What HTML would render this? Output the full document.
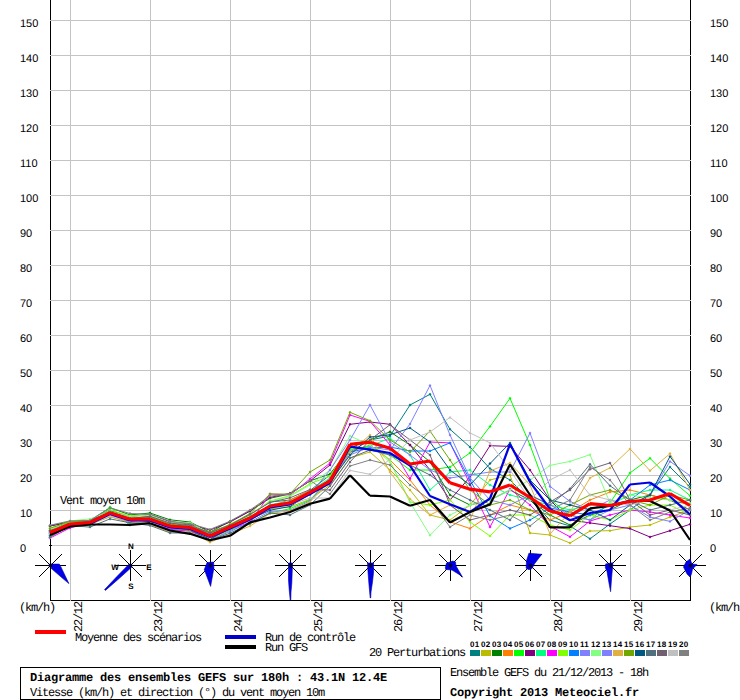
<!DOCTYPE html><html><head><meta charset="utf-8"><style>html,body{margin:0;padding:0;background:#fff;overflow:hidden}svg{display:block}text{text-rendering:geometricPrecision}.m{font-family:"Liberation Mono",monospace;font-size:12px;letter-spacing:-1.2px}.b{font-family:"Liberation Mono",monospace;font-size:12px;font-weight:bold;letter-spacing:-0.2px}.s{font-family:"Liberation Sans",sans-serif;font-size:11px}.w{font-family:"Liberation Sans",sans-serif;font-size:8px;font-weight:bold}.t{font-family:"Liberation Sans",sans-serif;font-size:8px;font-weight:bold;letter-spacing:0.3px}</style></head><body><svg width="740" height="700" viewBox="0 0 740 700"><path d="M50.5 0V600.5M690.5 0V600.5M50 600.5H691" stroke="#000" stroke-width="1" fill="none" shape-rendering="crispEdges"/><path d="M50 20.5H691M50 55.5H691M50 90.5H691M50 125.5H691M50 160.5H691M50 195.5H691M50 230.5H691M50 265.5H691M50 300.5H691M50 335.5H691M50 370.5H691M50 405.5H691M50 440.5H691M50 475.5H691M50 510.5H691M50 545.5H691M70.5 0V601M150.5 0V601M230.5 0V601M310.5 0V601M390.5 0V601M470.5 0V601M550.5 0V601M630.5 0V601" stroke="#c4c4c4" stroke-width="1" fill="none" shape-rendering="crispEdges"/><rect x="49" y="545" width="3" height="1" fill="#000"/><text class="s" x="20" y="27">150</text><text class="s" x="710" y="27">150</text><text class="s" x="20" y="62">140</text><text class="s" x="710" y="62">140</text><text class="s" x="20" y="97">130</text><text class="s" x="710" y="97">130</text><text class="s" x="20" y="132">120</text><text class="s" x="710" y="132">120</text><text class="s" x="20" y="167">110</text><text class="s" x="710" y="167">110</text><text class="s" x="20" y="202">100</text><text class="s" x="710" y="202">100</text><text class="s" x="20" y="237">90</text><text class="s" x="710" y="237">90</text><text class="s" x="20" y="272">80</text><text class="s" x="710" y="272">80</text><text class="s" x="20" y="307">70</text><text class="s" x="710" y="307">70</text><text class="s" x="20" y="342">60</text><text class="s" x="710" y="342">60</text><text class="s" x="20" y="377">50</text><text class="s" x="710" y="377">50</text><text class="s" x="20" y="412">40</text><text class="s" x="710" y="412">40</text><text class="s" x="20" y="447">30</text><text class="s" x="710" y="447">30</text><text class="s" x="20" y="482">20</text><text class="s" x="710" y="482">20</text><text class="s" x="20" y="517">10</text><text class="s" x="710" y="517">10</text><text class="s" x="20" y="552">0</text><text class="s" x="710" y="552">0</text><text class="m" x="60" y="504">Vent moyen 10m</text><text class="m" x="19" y="611">(km/h)</text><text class="m" x="709" y="611">(km/h)</text><text class="m" transform="translate(81.5,632) rotate(-90)" x="0" y="0">22/12</text><text class="m" transform="translate(161.5,632) rotate(-90)" x="0" y="0">23/12</text><text class="m" transform="translate(241.5,632) rotate(-90)" x="0" y="0">24/12</text><text class="m" transform="translate(321.5,632) rotate(-90)" x="0" y="0">25/12</text><text class="m" transform="translate(401.5,632) rotate(-90)" x="0" y="0">26/12</text><text class="m" transform="translate(481.5,632) rotate(-90)" x="0" y="0">27/12</text><text class="m" transform="translate(561.5,632) rotate(-90)" x="0" y="0">28/12</text><text class="m" transform="translate(641.5,632) rotate(-90)" x="0" y="0">29/12</text><path d="M35.0 565.5H66.0M50.5 550.0V581.0M39.0 554.0L62.0 577.0M39.0 577.0L62.0 554.0M115.0 565.5H146.0M130.5 550.0V581.0M119.0 554.0L142.0 577.0M119.0 577.0L142.0 554.0M195.0 565.5H226.0M210.5 550.0V581.0M199.0 554.0L222.0 577.0M199.0 577.0L222.0 554.0M275.0 565.5H306.0M290.5 550.0V581.0M279.0 554.0L302.0 577.0M279.0 577.0L302.0 554.0M355.0 565.5H386.0M370.5 550.0V581.0M359.0 554.0L382.0 577.0M359.0 577.0L382.0 554.0M435.0 565.5H466.0M450.5 550.0V581.0M439.0 554.0L462.0 577.0M439.0 577.0L462.0 554.0M515.0 565.5H546.0M530.5 550.0V581.0M519.0 554.0L542.0 577.0M519.0 577.0L542.0 554.0M595.0 565.5H626.0M610.5 550.0V581.0M599.0 554.0L622.0 577.0M599.0 577.0L622.0 554.0M675.0 565.5H706.0M690.5 550.0V581.0M679.0 554.0L702.0 577.0M679.0 577.0L702.0 554.0" stroke="#000" stroke-width="1" fill="none"/><polygon points="50.7,564.1 59.3,564.1 60.7,566.4 68.9,583.6 62.9,578.6 51.4,568.6" fill="#0000e8" stroke="#0000a0" stroke-width="0.6"/><polygon points="129.1,564.1 131.9,566.9 118.8,578.8 105.4,590.4 104.6,589.6 116.7,576.7" fill="#0000e8" stroke="#0000a0" stroke-width="0.6"/><polygon points="207.1,562.5 213.6,562.1 213.9,567.9 211.4,582.1 210.6,586.4 204.3,569.6" fill="#0000e8" stroke="#0000a0" stroke-width="0.6"/><polygon points="288.5,563 292.5,563 291.8,583 291,592 290.8,600 290.2,600 289.2,590 288.5,580" fill="#0000e8" stroke="#0000a0" stroke-width="0.6"/><polygon points="367.5,563 373.5,563 373.6,572 372.5,582 371,592 370.7,598 370.2,598 369,585 368,572" fill="#0000e8" stroke="#0000a0" stroke-width="0.6"/><polygon points="446.5,563 452.8,561.1 455.5,561.9 455.9,565.8 462.6,577.2 459.9,574.9 452,570.1 445.7,569.4 445.3,567.8" fill="#0000e8" stroke="#0000a0" stroke-width="0.6"/><polygon points="528.9,553.2 541.8,554.3 534.4,563.9 532,568.6 528.9,569.7 526.1,568.2 526.5,560.7" fill="#0000e8" stroke="#0000a0" stroke-width="0.6"/><polygon points="605.7,563.9 612.8,562.7 612.8,564.6 611.6,578 610.6,591.7 608.9,582.7 606.9,570.9 605.3,567.8" fill="#0000e8" stroke="#0000a0" stroke-width="0.6"/><polygon points="690,559 692,564 697,564.5 692.5,569 691.5,574 690,577 687,574 683.5,567 686,562" fill="#0000e8" stroke="#0000a0" stroke-width="0.6"/><circle cx="50.5" cy="565.5" r="2" fill="#000030"/><circle cx="130.5" cy="565.5" r="2" fill="#000030"/><circle cx="210.5" cy="565.5" r="2" fill="#000030"/><circle cx="290.5" cy="565.5" r="2" fill="#000030"/><circle cx="370.5" cy="565.5" r="2" fill="#000030"/><circle cx="450.5" cy="565.5" r="2" fill="#000030"/><circle cx="530.5" cy="565.5" r="2" fill="#000030"/><circle cx="610.5" cy="565.5" r="2" fill="#000030"/><circle cx="690.5" cy="565.5" r="2" fill="#000030"/><text class="w" x="131" y="549" text-anchor="middle">N</text><text class="w" x="131" y="589" text-anchor="middle">S</text><text class="w" x="115" y="570" text-anchor="middle">W</text><text class="w" x="149" y="570" text-anchor="middle">E</text><polyline points="50,530.2 70,521.8 90,522.3 110,509.7 130,525.0 150,517.3 170,522.9 190,526.3 210,532.8 230,525.2 250,514.4 270,502.0 290,500.1 310,490.5 330,475.0 350,452.0 370,440.0 390,436.0 410,405.0 430,394.3 450,429.3 470,447.0 490,468.6 510,480.0 530,500.0 550,520.0 570,526.0 590,538.8 610,524.0 630,510.0 650,495.0 670,467.0 690,487.0" fill="none" stroke="#008080" stroke-width="1"/><path d="M50 528.7l1.5 1.5l-1.5 1.5l-1.5 -1.5zM70 520.3l1.5 1.5l-1.5 1.5l-1.5 -1.5zM90 520.8l1.5 1.5l-1.5 1.5l-1.5 -1.5zM110 508.2l1.5 1.5l-1.5 1.5l-1.5 -1.5zM130 523.5l1.5 1.5l-1.5 1.5l-1.5 -1.5zM150 515.8l1.5 1.5l-1.5 1.5l-1.5 -1.5zM170 521.4l1.5 1.5l-1.5 1.5l-1.5 -1.5zM190 524.8l1.5 1.5l-1.5 1.5l-1.5 -1.5zM210 531.3l1.5 1.5l-1.5 1.5l-1.5 -1.5zM230 523.7l1.5 1.5l-1.5 1.5l-1.5 -1.5zM250 512.9l1.5 1.5l-1.5 1.5l-1.5 -1.5zM270 500.5l1.5 1.5l-1.5 1.5l-1.5 -1.5zM290 498.6l1.5 1.5l-1.5 1.5l-1.5 -1.5zM310 489.0l1.5 1.5l-1.5 1.5l-1.5 -1.5zM330 473.5l1.5 1.5l-1.5 1.5l-1.5 -1.5zM350 450.5l1.5 1.5l-1.5 1.5l-1.5 -1.5zM370 438.5l1.5 1.5l-1.5 1.5l-1.5 -1.5zM390 434.5l1.5 1.5l-1.5 1.5l-1.5 -1.5zM410 403.5l1.5 1.5l-1.5 1.5l-1.5 -1.5zM430 392.8l1.5 1.5l-1.5 1.5l-1.5 -1.5zM450 427.8l1.5 1.5l-1.5 1.5l-1.5 -1.5zM470 445.5l1.5 1.5l-1.5 1.5l-1.5 -1.5zM490 467.1l1.5 1.5l-1.5 1.5l-1.5 -1.5zM510 478.5l1.5 1.5l-1.5 1.5l-1.5 -1.5zM530 498.5l1.5 1.5l-1.5 1.5l-1.5 -1.5zM550 518.5l1.5 1.5l-1.5 1.5l-1.5 -1.5zM570 524.5l1.5 1.5l-1.5 1.5l-1.5 -1.5zM590 537.3l1.5 1.5l-1.5 1.5l-1.5 -1.5zM610 522.5l1.5 1.5l-1.5 1.5l-1.5 -1.5zM630 508.5l1.5 1.5l-1.5 1.5l-1.5 -1.5zM650 493.5l1.5 1.5l-1.5 1.5l-1.5 -1.5zM670 465.5l1.5 1.5l-1.5 1.5l-1.5 -1.5zM690 485.5l1.5 1.5l-1.5 1.5l-1.5 -1.5z" fill="#008080"/><polyline points="50,533.8 70,524.3 90,524.4 110,516.9 130,521.9 150,521.2 170,530.3 190,528.2 210,539.8 230,529.0 250,519.9 270,508.7 290,507.0 310,499.3 330,485.0 350,458.0 370,452.0 390,470.0 410,490.0 430,515.0 450,520.0 470,505.0 490,480.0 510,475.0 530,533.0 550,535.0 570,543.0 590,531.0 610,530.7 630,527.0 650,525.0 670,517.0 690,510.0" fill="none" stroke="#bbbb00" stroke-width="1"/><path d="M50 532.3l1.5 1.5l-1.5 1.5l-1.5 -1.5zM70 522.8l1.5 1.5l-1.5 1.5l-1.5 -1.5zM90 522.9l1.5 1.5l-1.5 1.5l-1.5 -1.5zM110 515.4l1.5 1.5l-1.5 1.5l-1.5 -1.5zM130 520.4l1.5 1.5l-1.5 1.5l-1.5 -1.5zM150 519.7l1.5 1.5l-1.5 1.5l-1.5 -1.5zM170 528.8l1.5 1.5l-1.5 1.5l-1.5 -1.5zM190 526.7l1.5 1.5l-1.5 1.5l-1.5 -1.5zM210 538.3l1.5 1.5l-1.5 1.5l-1.5 -1.5zM230 527.5l1.5 1.5l-1.5 1.5l-1.5 -1.5zM250 518.4l1.5 1.5l-1.5 1.5l-1.5 -1.5zM270 507.2l1.5 1.5l-1.5 1.5l-1.5 -1.5zM290 505.5l1.5 1.5l-1.5 1.5l-1.5 -1.5zM310 497.8l1.5 1.5l-1.5 1.5l-1.5 -1.5zM330 483.5l1.5 1.5l-1.5 1.5l-1.5 -1.5zM350 456.5l1.5 1.5l-1.5 1.5l-1.5 -1.5zM370 450.5l1.5 1.5l-1.5 1.5l-1.5 -1.5zM390 468.5l1.5 1.5l-1.5 1.5l-1.5 -1.5zM410 488.5l1.5 1.5l-1.5 1.5l-1.5 -1.5zM430 513.5l1.5 1.5l-1.5 1.5l-1.5 -1.5zM450 518.5l1.5 1.5l-1.5 1.5l-1.5 -1.5zM470 503.5l1.5 1.5l-1.5 1.5l-1.5 -1.5zM490 478.5l1.5 1.5l-1.5 1.5l-1.5 -1.5zM510 473.5l1.5 1.5l-1.5 1.5l-1.5 -1.5zM530 531.5l1.5 1.5l-1.5 1.5l-1.5 -1.5zM550 533.5l1.5 1.5l-1.5 1.5l-1.5 -1.5zM570 541.5l1.5 1.5l-1.5 1.5l-1.5 -1.5zM590 529.5l1.5 1.5l-1.5 1.5l-1.5 -1.5zM610 529.2l1.5 1.5l-1.5 1.5l-1.5 -1.5zM630 525.5l1.5 1.5l-1.5 1.5l-1.5 -1.5zM650 523.5l1.5 1.5l-1.5 1.5l-1.5 -1.5zM670 515.5l1.5 1.5l-1.5 1.5l-1.5 -1.5zM690 508.5l1.5 1.5l-1.5 1.5l-1.5 -1.5z" fill="#bbbb00"/><polyline points="50,525.9 70,521.6 90,520.4 110,507.7 130,514.9 150,513.0 170,519.8 190,522.0 210,532.2 230,521.3 250,511.0 270,498.3 290,493.9 310,480.9 330,474.0 350,448.0 370,440.0 390,431.8 410,445.0 430,462.0 450,495.0 470,505.0 490,500.0 510,490.0 530,500.0 550,515.0 570,525.0 590,515.0 610,510.0 630,500.0 650,495.0 670,500.0 690,510.0" fill="none" stroke="#008000" stroke-width="1"/><path d="M50 524.4l1.5 1.5l-1.5 1.5l-1.5 -1.5zM70 520.1l1.5 1.5l-1.5 1.5l-1.5 -1.5zM90 518.9l1.5 1.5l-1.5 1.5l-1.5 -1.5zM110 506.2l1.5 1.5l-1.5 1.5l-1.5 -1.5zM130 513.4l1.5 1.5l-1.5 1.5l-1.5 -1.5zM150 511.5l1.5 1.5l-1.5 1.5l-1.5 -1.5zM170 518.3l1.5 1.5l-1.5 1.5l-1.5 -1.5zM190 520.5l1.5 1.5l-1.5 1.5l-1.5 -1.5zM210 530.7l1.5 1.5l-1.5 1.5l-1.5 -1.5zM230 519.8l1.5 1.5l-1.5 1.5l-1.5 -1.5zM250 509.5l1.5 1.5l-1.5 1.5l-1.5 -1.5zM270 496.8l1.5 1.5l-1.5 1.5l-1.5 -1.5zM290 492.4l1.5 1.5l-1.5 1.5l-1.5 -1.5zM310 479.4l1.5 1.5l-1.5 1.5l-1.5 -1.5zM330 472.5l1.5 1.5l-1.5 1.5l-1.5 -1.5zM350 446.5l1.5 1.5l-1.5 1.5l-1.5 -1.5zM370 438.5l1.5 1.5l-1.5 1.5l-1.5 -1.5zM390 430.3l1.5 1.5l-1.5 1.5l-1.5 -1.5zM410 443.5l1.5 1.5l-1.5 1.5l-1.5 -1.5zM430 460.5l1.5 1.5l-1.5 1.5l-1.5 -1.5zM450 493.5l1.5 1.5l-1.5 1.5l-1.5 -1.5zM470 503.5l1.5 1.5l-1.5 1.5l-1.5 -1.5zM490 498.5l1.5 1.5l-1.5 1.5l-1.5 -1.5zM510 488.5l1.5 1.5l-1.5 1.5l-1.5 -1.5zM530 498.5l1.5 1.5l-1.5 1.5l-1.5 -1.5zM550 513.5l1.5 1.5l-1.5 1.5l-1.5 -1.5zM570 523.5l1.5 1.5l-1.5 1.5l-1.5 -1.5zM590 513.5l1.5 1.5l-1.5 1.5l-1.5 -1.5zM610 508.5l1.5 1.5l-1.5 1.5l-1.5 -1.5zM630 498.5l1.5 1.5l-1.5 1.5l-1.5 -1.5zM650 493.5l1.5 1.5l-1.5 1.5l-1.5 -1.5zM670 498.5l1.5 1.5l-1.5 1.5l-1.5 -1.5zM690 508.5l1.5 1.5l-1.5 1.5l-1.5 -1.5z" fill="#008000"/><polyline points="50,532.7 70,524.3 90,521.0 110,512.2 130,518.5 150,519.9 170,526.1 190,526.0 210,537.1 230,524.5 250,516.6 270,505.6 290,500.0 310,490.5 330,484.0 350,452.0 370,445.0 390,460.0 410,480.0 430,505.0 450,521.8 470,528.5 490,515.0 510,505.0 530,510.0 550,520.0 570,512.0 590,500.0 610,492.0 630,490.0 650,495.0 670,500.0 690,505.0" fill="none" stroke="#ff8000" stroke-width="1"/><path d="M50 531.2l1.5 1.5l-1.5 1.5l-1.5 -1.5zM70 522.8l1.5 1.5l-1.5 1.5l-1.5 -1.5zM90 519.5l1.5 1.5l-1.5 1.5l-1.5 -1.5zM110 510.7l1.5 1.5l-1.5 1.5l-1.5 -1.5zM130 517.0l1.5 1.5l-1.5 1.5l-1.5 -1.5zM150 518.4l1.5 1.5l-1.5 1.5l-1.5 -1.5zM170 524.6l1.5 1.5l-1.5 1.5l-1.5 -1.5zM190 524.5l1.5 1.5l-1.5 1.5l-1.5 -1.5zM210 535.6l1.5 1.5l-1.5 1.5l-1.5 -1.5zM230 523.0l1.5 1.5l-1.5 1.5l-1.5 -1.5zM250 515.1l1.5 1.5l-1.5 1.5l-1.5 -1.5zM270 504.1l1.5 1.5l-1.5 1.5l-1.5 -1.5zM290 498.5l1.5 1.5l-1.5 1.5l-1.5 -1.5zM310 489.0l1.5 1.5l-1.5 1.5l-1.5 -1.5zM330 482.5l1.5 1.5l-1.5 1.5l-1.5 -1.5zM350 450.5l1.5 1.5l-1.5 1.5l-1.5 -1.5zM370 443.5l1.5 1.5l-1.5 1.5l-1.5 -1.5zM390 458.5l1.5 1.5l-1.5 1.5l-1.5 -1.5zM410 478.5l1.5 1.5l-1.5 1.5l-1.5 -1.5zM430 503.5l1.5 1.5l-1.5 1.5l-1.5 -1.5zM450 520.3l1.5 1.5l-1.5 1.5l-1.5 -1.5zM470 527.0l1.5 1.5l-1.5 1.5l-1.5 -1.5zM490 513.5l1.5 1.5l-1.5 1.5l-1.5 -1.5zM510 503.5l1.5 1.5l-1.5 1.5l-1.5 -1.5zM530 508.5l1.5 1.5l-1.5 1.5l-1.5 -1.5zM550 518.5l1.5 1.5l-1.5 1.5l-1.5 -1.5zM570 510.5l1.5 1.5l-1.5 1.5l-1.5 -1.5zM590 498.5l1.5 1.5l-1.5 1.5l-1.5 -1.5zM610 490.5l1.5 1.5l-1.5 1.5l-1.5 -1.5zM630 488.5l1.5 1.5l-1.5 1.5l-1.5 -1.5zM650 493.5l1.5 1.5l-1.5 1.5l-1.5 -1.5zM670 498.5l1.5 1.5l-1.5 1.5l-1.5 -1.5zM690 503.5l1.5 1.5l-1.5 1.5l-1.5 -1.5z" fill="#ff8000"/><polyline points="50,534.1 70,526.4 90,525.3 110,507.0 130,523.6 150,521.3 170,529.7 190,530.9 210,541.0 230,530.3 250,523.4 270,513.0 290,508.7 310,500.0 330,478.0 350,448.0 370,447.0 390,455.0 410,470.0 430,470.0 450,467.0 470,452.9 490,426.4 510,398.3 530,445.0 550,499.3 570,515.0 590,520.0 610,502.9 630,472.9 650,458.3 670,478.6 690,495.7" fill="none" stroke="#00ff00" stroke-width="1"/><path d="M50 532.6l1.5 1.5l-1.5 1.5l-1.5 -1.5zM70 524.9l1.5 1.5l-1.5 1.5l-1.5 -1.5zM90 523.8l1.5 1.5l-1.5 1.5l-1.5 -1.5zM110 505.5l1.5 1.5l-1.5 1.5l-1.5 -1.5zM130 522.1l1.5 1.5l-1.5 1.5l-1.5 -1.5zM150 519.8l1.5 1.5l-1.5 1.5l-1.5 -1.5zM170 528.2l1.5 1.5l-1.5 1.5l-1.5 -1.5zM190 529.4l1.5 1.5l-1.5 1.5l-1.5 -1.5zM210 539.5l1.5 1.5l-1.5 1.5l-1.5 -1.5zM230 528.8l1.5 1.5l-1.5 1.5l-1.5 -1.5zM250 521.9l1.5 1.5l-1.5 1.5l-1.5 -1.5zM270 511.5l1.5 1.5l-1.5 1.5l-1.5 -1.5zM290 507.2l1.5 1.5l-1.5 1.5l-1.5 -1.5zM310 498.5l1.5 1.5l-1.5 1.5l-1.5 -1.5zM330 476.5l1.5 1.5l-1.5 1.5l-1.5 -1.5zM350 446.5l1.5 1.5l-1.5 1.5l-1.5 -1.5zM370 445.5l1.5 1.5l-1.5 1.5l-1.5 -1.5zM390 453.5l1.5 1.5l-1.5 1.5l-1.5 -1.5zM410 468.5l1.5 1.5l-1.5 1.5l-1.5 -1.5zM430 468.5l1.5 1.5l-1.5 1.5l-1.5 -1.5zM450 465.5l1.5 1.5l-1.5 1.5l-1.5 -1.5zM470 451.4l1.5 1.5l-1.5 1.5l-1.5 -1.5zM490 424.9l1.5 1.5l-1.5 1.5l-1.5 -1.5zM510 396.8l1.5 1.5l-1.5 1.5l-1.5 -1.5zM530 443.5l1.5 1.5l-1.5 1.5l-1.5 -1.5zM550 497.8l1.5 1.5l-1.5 1.5l-1.5 -1.5zM570 513.5l1.5 1.5l-1.5 1.5l-1.5 -1.5zM590 518.5l1.5 1.5l-1.5 1.5l-1.5 -1.5zM610 501.4l1.5 1.5l-1.5 1.5l-1.5 -1.5zM630 471.4l1.5 1.5l-1.5 1.5l-1.5 -1.5zM650 456.8l1.5 1.5l-1.5 1.5l-1.5 -1.5zM670 477.1l1.5 1.5l-1.5 1.5l-1.5 -1.5zM690 494.2l1.5 1.5l-1.5 1.5l-1.5 -1.5z" fill="#00ff00"/><polyline points="50,526.0 70,522.4 90,520.7 110,510.7 130,516.5 150,514.4 170,521.6 190,524.3 210,530.1 230,522.1 250,511.1 270,497.4 290,493.3 310,481.0 330,465.0 350,424.3 370,422.0 390,424.3 410,445.0 430,470.0 450,500.0 470,477.0 490,445.7 510,446.4 530,470.0 550,500.0 570,520.0 590,522.9 610,525.7 630,528.6 650,537.0 670,530.7 690,524.3" fill="none" stroke="#800080" stroke-width="1"/><path d="M50 524.5l1.5 1.5l-1.5 1.5l-1.5 -1.5zM70 520.9l1.5 1.5l-1.5 1.5l-1.5 -1.5zM90 519.2l1.5 1.5l-1.5 1.5l-1.5 -1.5zM110 509.2l1.5 1.5l-1.5 1.5l-1.5 -1.5zM130 515.0l1.5 1.5l-1.5 1.5l-1.5 -1.5zM150 512.9l1.5 1.5l-1.5 1.5l-1.5 -1.5zM170 520.1l1.5 1.5l-1.5 1.5l-1.5 -1.5zM190 522.8l1.5 1.5l-1.5 1.5l-1.5 -1.5zM210 528.6l1.5 1.5l-1.5 1.5l-1.5 -1.5zM230 520.6l1.5 1.5l-1.5 1.5l-1.5 -1.5zM250 509.6l1.5 1.5l-1.5 1.5l-1.5 -1.5zM270 495.9l1.5 1.5l-1.5 1.5l-1.5 -1.5zM290 491.8l1.5 1.5l-1.5 1.5l-1.5 -1.5zM310 479.5l1.5 1.5l-1.5 1.5l-1.5 -1.5zM330 463.5l1.5 1.5l-1.5 1.5l-1.5 -1.5zM350 422.8l1.5 1.5l-1.5 1.5l-1.5 -1.5zM370 420.5l1.5 1.5l-1.5 1.5l-1.5 -1.5zM390 422.8l1.5 1.5l-1.5 1.5l-1.5 -1.5zM410 443.5l1.5 1.5l-1.5 1.5l-1.5 -1.5zM430 468.5l1.5 1.5l-1.5 1.5l-1.5 -1.5zM450 498.5l1.5 1.5l-1.5 1.5l-1.5 -1.5zM470 475.5l1.5 1.5l-1.5 1.5l-1.5 -1.5zM490 444.2l1.5 1.5l-1.5 1.5l-1.5 -1.5zM510 444.9l1.5 1.5l-1.5 1.5l-1.5 -1.5zM530 468.5l1.5 1.5l-1.5 1.5l-1.5 -1.5zM550 498.5l1.5 1.5l-1.5 1.5l-1.5 -1.5zM570 518.5l1.5 1.5l-1.5 1.5l-1.5 -1.5zM590 521.4l1.5 1.5l-1.5 1.5l-1.5 -1.5zM610 524.2l1.5 1.5l-1.5 1.5l-1.5 -1.5zM630 527.1l1.5 1.5l-1.5 1.5l-1.5 -1.5zM650 535.5l1.5 1.5l-1.5 1.5l-1.5 -1.5zM670 529.2l1.5 1.5l-1.5 1.5l-1.5 -1.5zM690 522.8l1.5 1.5l-1.5 1.5l-1.5 -1.5z" fill="#800080"/><polyline points="50,533.3 70,522.4 90,521.3 110,512.0 130,520.4 150,517.3 170,525.5 190,527.5 210,537.3 230,528.0 250,519.1 270,504.6 290,502.1 310,491.2 330,478.0 350,450.0 370,446.0 390,438.0 410,455.0 430,490.0 450,472.0 470,470.0 490,485.0 510,495.0 530,500.0 550,505.0 570,510.0 590,505.0 610,505.0 630,495.0 650,490.0 670,490.0 690,500.0" fill="none" stroke="#00ff80" stroke-width="1"/><path d="M50 531.8l1.5 1.5l-1.5 1.5l-1.5 -1.5zM70 520.9l1.5 1.5l-1.5 1.5l-1.5 -1.5zM90 519.8l1.5 1.5l-1.5 1.5l-1.5 -1.5zM110 510.5l1.5 1.5l-1.5 1.5l-1.5 -1.5zM130 518.9l1.5 1.5l-1.5 1.5l-1.5 -1.5zM150 515.8l1.5 1.5l-1.5 1.5l-1.5 -1.5zM170 524.0l1.5 1.5l-1.5 1.5l-1.5 -1.5zM190 526.0l1.5 1.5l-1.5 1.5l-1.5 -1.5zM210 535.8l1.5 1.5l-1.5 1.5l-1.5 -1.5zM230 526.5l1.5 1.5l-1.5 1.5l-1.5 -1.5zM250 517.6l1.5 1.5l-1.5 1.5l-1.5 -1.5zM270 503.1l1.5 1.5l-1.5 1.5l-1.5 -1.5zM290 500.6l1.5 1.5l-1.5 1.5l-1.5 -1.5zM310 489.7l1.5 1.5l-1.5 1.5l-1.5 -1.5zM330 476.5l1.5 1.5l-1.5 1.5l-1.5 -1.5zM350 448.5l1.5 1.5l-1.5 1.5l-1.5 -1.5zM370 444.5l1.5 1.5l-1.5 1.5l-1.5 -1.5zM390 436.5l1.5 1.5l-1.5 1.5l-1.5 -1.5zM410 453.5l1.5 1.5l-1.5 1.5l-1.5 -1.5zM430 488.5l1.5 1.5l-1.5 1.5l-1.5 -1.5zM450 470.5l1.5 1.5l-1.5 1.5l-1.5 -1.5zM470 468.5l1.5 1.5l-1.5 1.5l-1.5 -1.5zM490 483.5l1.5 1.5l-1.5 1.5l-1.5 -1.5zM510 493.5l1.5 1.5l-1.5 1.5l-1.5 -1.5zM530 498.5l1.5 1.5l-1.5 1.5l-1.5 -1.5zM550 503.5l1.5 1.5l-1.5 1.5l-1.5 -1.5zM570 508.5l1.5 1.5l-1.5 1.5l-1.5 -1.5zM590 503.5l1.5 1.5l-1.5 1.5l-1.5 -1.5zM610 503.5l1.5 1.5l-1.5 1.5l-1.5 -1.5zM630 493.5l1.5 1.5l-1.5 1.5l-1.5 -1.5zM650 488.5l1.5 1.5l-1.5 1.5l-1.5 -1.5zM670 488.5l1.5 1.5l-1.5 1.5l-1.5 -1.5zM690 498.5l1.5 1.5l-1.5 1.5l-1.5 -1.5z" fill="#00ff80"/><polyline points="50,538.1 70,527.9 90,523.2 110,514.8 130,521.5 150,521.6 170,529.4 190,531.4 210,538.5 230,529.1 250,522.5 270,494.0 290,495.0 310,479.0 330,463.0 350,415.0 370,421.4 390,445.0 410,478.6 430,442.0 450,442.9 470,484.0 490,527.0 510,489.0 530,505.0 550,526.0 570,536.8 590,521.0 610,515.0 630,510.0 650,512.0 670,515.0 690,518.0" fill="none" stroke="#ff00ff" stroke-width="1"/><path d="M50 536.6l1.5 1.5l-1.5 1.5l-1.5 -1.5zM70 526.4l1.5 1.5l-1.5 1.5l-1.5 -1.5zM90 521.7l1.5 1.5l-1.5 1.5l-1.5 -1.5zM110 513.3l1.5 1.5l-1.5 1.5l-1.5 -1.5zM130 520.0l1.5 1.5l-1.5 1.5l-1.5 -1.5zM150 520.1l1.5 1.5l-1.5 1.5l-1.5 -1.5zM170 527.9l1.5 1.5l-1.5 1.5l-1.5 -1.5zM190 529.9l1.5 1.5l-1.5 1.5l-1.5 -1.5zM210 537.0l1.5 1.5l-1.5 1.5l-1.5 -1.5zM230 527.6l1.5 1.5l-1.5 1.5l-1.5 -1.5zM250 521.0l1.5 1.5l-1.5 1.5l-1.5 -1.5zM270 492.5l1.5 1.5l-1.5 1.5l-1.5 -1.5zM290 493.5l1.5 1.5l-1.5 1.5l-1.5 -1.5zM310 477.5l1.5 1.5l-1.5 1.5l-1.5 -1.5zM330 461.5l1.5 1.5l-1.5 1.5l-1.5 -1.5zM350 413.5l1.5 1.5l-1.5 1.5l-1.5 -1.5zM370 419.9l1.5 1.5l-1.5 1.5l-1.5 -1.5zM390 443.5l1.5 1.5l-1.5 1.5l-1.5 -1.5zM410 477.1l1.5 1.5l-1.5 1.5l-1.5 -1.5zM430 440.5l1.5 1.5l-1.5 1.5l-1.5 -1.5zM450 441.4l1.5 1.5l-1.5 1.5l-1.5 -1.5zM470 482.5l1.5 1.5l-1.5 1.5l-1.5 -1.5zM490 525.5l1.5 1.5l-1.5 1.5l-1.5 -1.5zM510 487.5l1.5 1.5l-1.5 1.5l-1.5 -1.5zM530 503.5l1.5 1.5l-1.5 1.5l-1.5 -1.5zM550 524.5l1.5 1.5l-1.5 1.5l-1.5 -1.5zM570 535.3l1.5 1.5l-1.5 1.5l-1.5 -1.5zM590 519.5l1.5 1.5l-1.5 1.5l-1.5 -1.5zM610 513.5l1.5 1.5l-1.5 1.5l-1.5 -1.5zM630 508.5l1.5 1.5l-1.5 1.5l-1.5 -1.5zM650 510.5l1.5 1.5l-1.5 1.5l-1.5 -1.5zM670 513.5l1.5 1.5l-1.5 1.5l-1.5 -1.5zM690 516.5l1.5 1.5l-1.5 1.5l-1.5 -1.5z" fill="#ff00ff"/><polyline points="50,527.9 70,522.2 90,522.3 110,510.0 130,515.8 150,516.2 170,523.3 190,522.4 210,534.2 230,524.0 250,514.7 270,501.0 290,495.7 310,483.8 330,476.0 350,445.0 370,440.0 390,461.0 410,502.0 430,505.0 450,500.0 470,522.0 490,536.0 510,515.0 530,515.0 550,525.0 570,530.0 590,515.0 610,520.0 630,510.0 650,505.0 670,505.0 690,515.0" fill="none" stroke="#80ff00" stroke-width="1"/><path d="M50 526.4l1.5 1.5l-1.5 1.5l-1.5 -1.5zM70 520.7l1.5 1.5l-1.5 1.5l-1.5 -1.5zM90 520.8l1.5 1.5l-1.5 1.5l-1.5 -1.5zM110 508.5l1.5 1.5l-1.5 1.5l-1.5 -1.5zM130 514.3l1.5 1.5l-1.5 1.5l-1.5 -1.5zM150 514.7l1.5 1.5l-1.5 1.5l-1.5 -1.5zM170 521.8l1.5 1.5l-1.5 1.5l-1.5 -1.5zM190 520.9l1.5 1.5l-1.5 1.5l-1.5 -1.5zM210 532.7l1.5 1.5l-1.5 1.5l-1.5 -1.5zM230 522.5l1.5 1.5l-1.5 1.5l-1.5 -1.5zM250 513.2l1.5 1.5l-1.5 1.5l-1.5 -1.5zM270 499.5l1.5 1.5l-1.5 1.5l-1.5 -1.5zM290 494.2l1.5 1.5l-1.5 1.5l-1.5 -1.5zM310 482.3l1.5 1.5l-1.5 1.5l-1.5 -1.5zM330 474.5l1.5 1.5l-1.5 1.5l-1.5 -1.5zM350 443.5l1.5 1.5l-1.5 1.5l-1.5 -1.5zM370 438.5l1.5 1.5l-1.5 1.5l-1.5 -1.5zM390 459.5l1.5 1.5l-1.5 1.5l-1.5 -1.5zM410 500.5l1.5 1.5l-1.5 1.5l-1.5 -1.5zM430 503.5l1.5 1.5l-1.5 1.5l-1.5 -1.5zM450 498.5l1.5 1.5l-1.5 1.5l-1.5 -1.5zM470 520.5l1.5 1.5l-1.5 1.5l-1.5 -1.5zM490 534.5l1.5 1.5l-1.5 1.5l-1.5 -1.5zM510 513.5l1.5 1.5l-1.5 1.5l-1.5 -1.5zM530 513.5l1.5 1.5l-1.5 1.5l-1.5 -1.5zM550 523.5l1.5 1.5l-1.5 1.5l-1.5 -1.5zM570 528.5l1.5 1.5l-1.5 1.5l-1.5 -1.5zM590 513.5l1.5 1.5l-1.5 1.5l-1.5 -1.5zM610 518.5l1.5 1.5l-1.5 1.5l-1.5 -1.5zM630 508.5l1.5 1.5l-1.5 1.5l-1.5 -1.5zM650 503.5l1.5 1.5l-1.5 1.5l-1.5 -1.5zM670 503.5l1.5 1.5l-1.5 1.5l-1.5 -1.5zM690 513.5l1.5 1.5l-1.5 1.5l-1.5 -1.5z" fill="#80ff00"/><polyline points="50,531.2 70,524.7 90,520.9 110,511.2 130,518.3 150,518.1 170,525.6 190,526.1 210,534.3 230,525.9 250,516.8 270,505.9 290,501.6 310,494.5 330,480.0 350,452.0 370,448.0 390,447.0 410,451.0 430,451.0 450,442.9 470,480.0 490,516.0 510,528.5 530,520.0 550,508.0 570,512.0 590,515.0 610,505.0 630,500.0 650,485.0 670,480.0 690,490.0" fill="none" stroke="#0080ff" stroke-width="1"/><path d="M50 529.7l1.5 1.5l-1.5 1.5l-1.5 -1.5zM70 523.2l1.5 1.5l-1.5 1.5l-1.5 -1.5zM90 519.4l1.5 1.5l-1.5 1.5l-1.5 -1.5zM110 509.7l1.5 1.5l-1.5 1.5l-1.5 -1.5zM130 516.8l1.5 1.5l-1.5 1.5l-1.5 -1.5zM150 516.6l1.5 1.5l-1.5 1.5l-1.5 -1.5zM170 524.1l1.5 1.5l-1.5 1.5l-1.5 -1.5zM190 524.6l1.5 1.5l-1.5 1.5l-1.5 -1.5zM210 532.8l1.5 1.5l-1.5 1.5l-1.5 -1.5zM230 524.4l1.5 1.5l-1.5 1.5l-1.5 -1.5zM250 515.3l1.5 1.5l-1.5 1.5l-1.5 -1.5zM270 504.4l1.5 1.5l-1.5 1.5l-1.5 -1.5zM290 500.1l1.5 1.5l-1.5 1.5l-1.5 -1.5zM310 493.0l1.5 1.5l-1.5 1.5l-1.5 -1.5zM330 478.5l1.5 1.5l-1.5 1.5l-1.5 -1.5zM350 450.5l1.5 1.5l-1.5 1.5l-1.5 -1.5zM370 446.5l1.5 1.5l-1.5 1.5l-1.5 -1.5zM390 445.5l1.5 1.5l-1.5 1.5l-1.5 -1.5zM410 449.5l1.5 1.5l-1.5 1.5l-1.5 -1.5zM430 449.5l1.5 1.5l-1.5 1.5l-1.5 -1.5zM450 441.4l1.5 1.5l-1.5 1.5l-1.5 -1.5zM470 478.5l1.5 1.5l-1.5 1.5l-1.5 -1.5zM490 514.5l1.5 1.5l-1.5 1.5l-1.5 -1.5zM510 527.0l1.5 1.5l-1.5 1.5l-1.5 -1.5zM530 518.5l1.5 1.5l-1.5 1.5l-1.5 -1.5zM550 506.5l1.5 1.5l-1.5 1.5l-1.5 -1.5zM570 510.5l1.5 1.5l-1.5 1.5l-1.5 -1.5zM590 513.5l1.5 1.5l-1.5 1.5l-1.5 -1.5zM610 503.5l1.5 1.5l-1.5 1.5l-1.5 -1.5zM630 498.5l1.5 1.5l-1.5 1.5l-1.5 -1.5zM650 483.5l1.5 1.5l-1.5 1.5l-1.5 -1.5zM670 478.5l1.5 1.5l-1.5 1.5l-1.5 -1.5zM690 488.5l1.5 1.5l-1.5 1.5l-1.5 -1.5z" fill="#0080ff"/><polyline points="50,537.7 70,525.0 90,523.9 110,516.0 130,522.6 150,521.6 170,531.3 190,533.5 210,539.8 230,531.7 250,521.9 270,511.5 290,510.3 310,500.9 330,478.0 350,455.0 370,447.0 390,450.0 410,424.0 430,385.4 450,435.0 470,478.0 490,500.0 510,505.0 530,495.0 550,505.0 570,515.0 590,520.0 610,510.0 630,505.0 650,495.0 670,461.4 690,475.7" fill="none" stroke="#8080ff" stroke-width="1"/><path d="M50 536.2l1.5 1.5l-1.5 1.5l-1.5 -1.5zM70 523.5l1.5 1.5l-1.5 1.5l-1.5 -1.5zM90 522.4l1.5 1.5l-1.5 1.5l-1.5 -1.5zM110 514.5l1.5 1.5l-1.5 1.5l-1.5 -1.5zM130 521.1l1.5 1.5l-1.5 1.5l-1.5 -1.5zM150 520.1l1.5 1.5l-1.5 1.5l-1.5 -1.5zM170 529.8l1.5 1.5l-1.5 1.5l-1.5 -1.5zM190 532.0l1.5 1.5l-1.5 1.5l-1.5 -1.5zM210 538.3l1.5 1.5l-1.5 1.5l-1.5 -1.5zM230 530.2l1.5 1.5l-1.5 1.5l-1.5 -1.5zM250 520.4l1.5 1.5l-1.5 1.5l-1.5 -1.5zM270 510.0l1.5 1.5l-1.5 1.5l-1.5 -1.5zM290 508.8l1.5 1.5l-1.5 1.5l-1.5 -1.5zM310 499.4l1.5 1.5l-1.5 1.5l-1.5 -1.5zM330 476.5l1.5 1.5l-1.5 1.5l-1.5 -1.5zM350 453.5l1.5 1.5l-1.5 1.5l-1.5 -1.5zM370 445.5l1.5 1.5l-1.5 1.5l-1.5 -1.5zM390 448.5l1.5 1.5l-1.5 1.5l-1.5 -1.5zM410 422.5l1.5 1.5l-1.5 1.5l-1.5 -1.5zM430 383.9l1.5 1.5l-1.5 1.5l-1.5 -1.5zM450 433.5l1.5 1.5l-1.5 1.5l-1.5 -1.5zM470 476.5l1.5 1.5l-1.5 1.5l-1.5 -1.5zM490 498.5l1.5 1.5l-1.5 1.5l-1.5 -1.5zM510 503.5l1.5 1.5l-1.5 1.5l-1.5 -1.5zM530 493.5l1.5 1.5l-1.5 1.5l-1.5 -1.5zM550 503.5l1.5 1.5l-1.5 1.5l-1.5 -1.5zM570 513.5l1.5 1.5l-1.5 1.5l-1.5 -1.5zM590 518.5l1.5 1.5l-1.5 1.5l-1.5 -1.5zM610 508.5l1.5 1.5l-1.5 1.5l-1.5 -1.5zM630 503.5l1.5 1.5l-1.5 1.5l-1.5 -1.5zM650 493.5l1.5 1.5l-1.5 1.5l-1.5 -1.5zM670 459.9l1.5 1.5l-1.5 1.5l-1.5 -1.5zM690 474.2l1.5 1.5l-1.5 1.5l-1.5 -1.5z" fill="#8080ff"/><polyline points="50,530.3 70,520.9 90,518.9 110,511.6 130,516.4 150,514.9 170,523.3 190,522.8 210,533.2 230,525.4 250,515.4 270,501.6 290,496.3 310,484.9 330,470.0 350,436.0 370,445.0 390,462.0 410,502.0 430,535.3 450,515.0 470,505.0 490,500.0 510,490.0 530,480.0 550,465.4 570,461.4 590,454.7 610,502.9 630,495.0 650,498.0 670,500.0 690,503.0" fill="none" stroke="#80ff80" stroke-width="1"/><path d="M50 528.8l1.5 1.5l-1.5 1.5l-1.5 -1.5zM70 519.4l1.5 1.5l-1.5 1.5l-1.5 -1.5zM90 517.4l1.5 1.5l-1.5 1.5l-1.5 -1.5zM110 510.1l1.5 1.5l-1.5 1.5l-1.5 -1.5zM130 514.9l1.5 1.5l-1.5 1.5l-1.5 -1.5zM150 513.4l1.5 1.5l-1.5 1.5l-1.5 -1.5zM170 521.8l1.5 1.5l-1.5 1.5l-1.5 -1.5zM190 521.3l1.5 1.5l-1.5 1.5l-1.5 -1.5zM210 531.7l1.5 1.5l-1.5 1.5l-1.5 -1.5zM230 523.9l1.5 1.5l-1.5 1.5l-1.5 -1.5zM250 513.9l1.5 1.5l-1.5 1.5l-1.5 -1.5zM270 500.1l1.5 1.5l-1.5 1.5l-1.5 -1.5zM290 494.8l1.5 1.5l-1.5 1.5l-1.5 -1.5zM310 483.4l1.5 1.5l-1.5 1.5l-1.5 -1.5zM330 468.5l1.5 1.5l-1.5 1.5l-1.5 -1.5zM350 434.5l1.5 1.5l-1.5 1.5l-1.5 -1.5zM370 443.5l1.5 1.5l-1.5 1.5l-1.5 -1.5zM390 460.5l1.5 1.5l-1.5 1.5l-1.5 -1.5zM410 500.5l1.5 1.5l-1.5 1.5l-1.5 -1.5zM430 533.8l1.5 1.5l-1.5 1.5l-1.5 -1.5zM450 513.5l1.5 1.5l-1.5 1.5l-1.5 -1.5zM470 503.5l1.5 1.5l-1.5 1.5l-1.5 -1.5zM490 498.5l1.5 1.5l-1.5 1.5l-1.5 -1.5zM510 488.5l1.5 1.5l-1.5 1.5l-1.5 -1.5zM530 478.5l1.5 1.5l-1.5 1.5l-1.5 -1.5zM550 463.9l1.5 1.5l-1.5 1.5l-1.5 -1.5zM570 459.9l1.5 1.5l-1.5 1.5l-1.5 -1.5zM590 453.2l1.5 1.5l-1.5 1.5l-1.5 -1.5zM610 501.4l1.5 1.5l-1.5 1.5l-1.5 -1.5zM630 493.5l1.5 1.5l-1.5 1.5l-1.5 -1.5zM650 496.5l1.5 1.5l-1.5 1.5l-1.5 -1.5zM670 498.5l1.5 1.5l-1.5 1.5l-1.5 -1.5zM690 501.5l1.5 1.5l-1.5 1.5l-1.5 -1.5z" fill="#80ff80"/><polyline points="50,532.1 70,525.6 90,523.1 110,514.6 130,519.3 150,518.9 170,528.0 190,530.3 210,538.2 230,529.2 250,520.4 270,508.4 290,503.5 310,494.4 330,470.0 350,440.0 370,405.0 390,442.0 410,455.0 430,470.0 450,478.0 470,475.0 490,472.0 510,472.0 530,433.1 550,486.4 570,501.4 590,510.0 610,500.0 630,505.0 650,517.0 670,521.4 690,510.0" fill="none" stroke="#8080ff" stroke-width="1"/><path d="M50 530.6l1.5 1.5l-1.5 1.5l-1.5 -1.5zM70 524.1l1.5 1.5l-1.5 1.5l-1.5 -1.5zM90 521.6l1.5 1.5l-1.5 1.5l-1.5 -1.5zM110 513.1l1.5 1.5l-1.5 1.5l-1.5 -1.5zM130 517.8l1.5 1.5l-1.5 1.5l-1.5 -1.5zM150 517.4l1.5 1.5l-1.5 1.5l-1.5 -1.5zM170 526.5l1.5 1.5l-1.5 1.5l-1.5 -1.5zM190 528.8l1.5 1.5l-1.5 1.5l-1.5 -1.5zM210 536.7l1.5 1.5l-1.5 1.5l-1.5 -1.5zM230 527.7l1.5 1.5l-1.5 1.5l-1.5 -1.5zM250 518.9l1.5 1.5l-1.5 1.5l-1.5 -1.5zM270 506.9l1.5 1.5l-1.5 1.5l-1.5 -1.5zM290 502.0l1.5 1.5l-1.5 1.5l-1.5 -1.5zM310 492.9l1.5 1.5l-1.5 1.5l-1.5 -1.5zM330 468.5l1.5 1.5l-1.5 1.5l-1.5 -1.5zM350 438.5l1.5 1.5l-1.5 1.5l-1.5 -1.5zM370 403.5l1.5 1.5l-1.5 1.5l-1.5 -1.5zM390 440.5l1.5 1.5l-1.5 1.5l-1.5 -1.5zM410 453.5l1.5 1.5l-1.5 1.5l-1.5 -1.5zM430 468.5l1.5 1.5l-1.5 1.5l-1.5 -1.5zM450 476.5l1.5 1.5l-1.5 1.5l-1.5 -1.5zM470 473.5l1.5 1.5l-1.5 1.5l-1.5 -1.5zM490 470.5l1.5 1.5l-1.5 1.5l-1.5 -1.5zM510 470.5l1.5 1.5l-1.5 1.5l-1.5 -1.5zM530 431.6l1.5 1.5l-1.5 1.5l-1.5 -1.5zM550 484.9l1.5 1.5l-1.5 1.5l-1.5 -1.5zM570 499.9l1.5 1.5l-1.5 1.5l-1.5 -1.5zM590 508.5l1.5 1.5l-1.5 1.5l-1.5 -1.5zM610 498.5l1.5 1.5l-1.5 1.5l-1.5 -1.5zM630 503.5l1.5 1.5l-1.5 1.5l-1.5 -1.5zM650 515.5l1.5 1.5l-1.5 1.5l-1.5 -1.5zM670 519.9l1.5 1.5l-1.5 1.5l-1.5 -1.5zM690 508.5l1.5 1.5l-1.5 1.5l-1.5 -1.5z" fill="#8080ff"/><polyline points="50,537.3 70,524.8 90,523.3 110,516.3 130,522.7 150,524.4 170,532.3 190,531.9 210,542.2 230,534.3 250,526.1 270,513.5 290,510.8 310,502.0 330,480.0 350,452.0 370,435.0 390,472.0 410,499.0 430,515.0 450,505.0 470,520.0 490,471.0 510,463.0 530,485.0 550,534.0 570,512.0 590,477.9 610,467.9 630,448.9 650,470.7 670,453.6 690,490.0" fill="none" stroke="#e0b040" stroke-width="1"/><path d="M50 535.8l1.5 1.5l-1.5 1.5l-1.5 -1.5zM70 523.3l1.5 1.5l-1.5 1.5l-1.5 -1.5zM90 521.8l1.5 1.5l-1.5 1.5l-1.5 -1.5zM110 514.8l1.5 1.5l-1.5 1.5l-1.5 -1.5zM130 521.2l1.5 1.5l-1.5 1.5l-1.5 -1.5zM150 522.9l1.5 1.5l-1.5 1.5l-1.5 -1.5zM170 530.8l1.5 1.5l-1.5 1.5l-1.5 -1.5zM190 530.4l1.5 1.5l-1.5 1.5l-1.5 -1.5zM210 540.7l1.5 1.5l-1.5 1.5l-1.5 -1.5zM230 532.8l1.5 1.5l-1.5 1.5l-1.5 -1.5zM250 524.6l1.5 1.5l-1.5 1.5l-1.5 -1.5zM270 512.0l1.5 1.5l-1.5 1.5l-1.5 -1.5zM290 509.3l1.5 1.5l-1.5 1.5l-1.5 -1.5zM310 500.5l1.5 1.5l-1.5 1.5l-1.5 -1.5zM330 478.5l1.5 1.5l-1.5 1.5l-1.5 -1.5zM350 450.5l1.5 1.5l-1.5 1.5l-1.5 -1.5zM370 433.5l1.5 1.5l-1.5 1.5l-1.5 -1.5zM390 470.5l1.5 1.5l-1.5 1.5l-1.5 -1.5zM410 497.5l1.5 1.5l-1.5 1.5l-1.5 -1.5zM430 513.5l1.5 1.5l-1.5 1.5l-1.5 -1.5zM450 503.5l1.5 1.5l-1.5 1.5l-1.5 -1.5zM470 518.5l1.5 1.5l-1.5 1.5l-1.5 -1.5zM490 469.5l1.5 1.5l-1.5 1.5l-1.5 -1.5zM510 461.5l1.5 1.5l-1.5 1.5l-1.5 -1.5zM530 483.5l1.5 1.5l-1.5 1.5l-1.5 -1.5zM550 532.5l1.5 1.5l-1.5 1.5l-1.5 -1.5zM570 510.5l1.5 1.5l-1.5 1.5l-1.5 -1.5zM590 476.4l1.5 1.5l-1.5 1.5l-1.5 -1.5zM610 466.4l1.5 1.5l-1.5 1.5l-1.5 -1.5zM630 447.4l1.5 1.5l-1.5 1.5l-1.5 -1.5zM650 469.2l1.5 1.5l-1.5 1.5l-1.5 -1.5zM670 452.1l1.5 1.5l-1.5 1.5l-1.5 -1.5zM690 488.5l1.5 1.5l-1.5 1.5l-1.5 -1.5z" fill="#e0b040"/><polyline points="50,528.4 70,521.4 90,521.6 110,511.9 130,518.2 150,516.7 170,524.2 190,526.4 210,532.0 230,524.8 250,513.5 270,494.0 290,494.0 310,472.0 330,460.0 350,412.3 370,420.7 390,440.0 410,452.0 430,431.0 450,460.0 470,490.0 490,505.0 510,500.0 530,510.0 550,515.0 570,505.0 590,495.0 610,490.0 630,500.0 650,505.0 670,495.0 690,500.0" fill="none" stroke="#70a800" stroke-width="1"/><path d="M50 526.9l1.5 1.5l-1.5 1.5l-1.5 -1.5zM70 519.9l1.5 1.5l-1.5 1.5l-1.5 -1.5zM90 520.1l1.5 1.5l-1.5 1.5l-1.5 -1.5zM110 510.4l1.5 1.5l-1.5 1.5l-1.5 -1.5zM130 516.7l1.5 1.5l-1.5 1.5l-1.5 -1.5zM150 515.2l1.5 1.5l-1.5 1.5l-1.5 -1.5zM170 522.7l1.5 1.5l-1.5 1.5l-1.5 -1.5zM190 524.9l1.5 1.5l-1.5 1.5l-1.5 -1.5zM210 530.5l1.5 1.5l-1.5 1.5l-1.5 -1.5zM230 523.3l1.5 1.5l-1.5 1.5l-1.5 -1.5zM250 512.0l1.5 1.5l-1.5 1.5l-1.5 -1.5zM270 492.5l1.5 1.5l-1.5 1.5l-1.5 -1.5zM290 492.5l1.5 1.5l-1.5 1.5l-1.5 -1.5zM310 470.5l1.5 1.5l-1.5 1.5l-1.5 -1.5zM330 458.5l1.5 1.5l-1.5 1.5l-1.5 -1.5zM350 410.8l1.5 1.5l-1.5 1.5l-1.5 -1.5zM370 419.2l1.5 1.5l-1.5 1.5l-1.5 -1.5zM390 438.5l1.5 1.5l-1.5 1.5l-1.5 -1.5zM410 450.5l1.5 1.5l-1.5 1.5l-1.5 -1.5zM430 429.5l1.5 1.5l-1.5 1.5l-1.5 -1.5zM450 458.5l1.5 1.5l-1.5 1.5l-1.5 -1.5zM470 488.5l1.5 1.5l-1.5 1.5l-1.5 -1.5zM490 503.5l1.5 1.5l-1.5 1.5l-1.5 -1.5zM510 498.5l1.5 1.5l-1.5 1.5l-1.5 -1.5zM530 508.5l1.5 1.5l-1.5 1.5l-1.5 -1.5zM550 513.5l1.5 1.5l-1.5 1.5l-1.5 -1.5zM570 503.5l1.5 1.5l-1.5 1.5l-1.5 -1.5zM590 493.5l1.5 1.5l-1.5 1.5l-1.5 -1.5zM610 488.5l1.5 1.5l-1.5 1.5l-1.5 -1.5zM630 498.5l1.5 1.5l-1.5 1.5l-1.5 -1.5zM650 503.5l1.5 1.5l-1.5 1.5l-1.5 -1.5zM670 493.5l1.5 1.5l-1.5 1.5l-1.5 -1.5zM690 498.5l1.5 1.5l-1.5 1.5l-1.5 -1.5z" fill="#70a800"/><polyline points="50,535.7 70,525.9 90,524.3 110,513.9 130,519.2 150,521.7 170,526.6 190,530.1 210,539.2 230,528.2 250,519.4 270,510.2 290,506.5 310,494.2 330,482.0 350,455.0 370,437.0 390,434.8 410,428.0 430,442.0 450,470.0 470,485.0 490,463.6 510,442.9 530,480.0 550,500.0 570,505.0 590,510.0 610,520.0 630,505.0 650,495.0 670,456.4 690,484.3" fill="none" stroke="#005880" stroke-width="1"/><path d="M50 534.2l1.5 1.5l-1.5 1.5l-1.5 -1.5zM70 524.4l1.5 1.5l-1.5 1.5l-1.5 -1.5zM90 522.8l1.5 1.5l-1.5 1.5l-1.5 -1.5zM110 512.4l1.5 1.5l-1.5 1.5l-1.5 -1.5zM130 517.7l1.5 1.5l-1.5 1.5l-1.5 -1.5zM150 520.2l1.5 1.5l-1.5 1.5l-1.5 -1.5zM170 525.1l1.5 1.5l-1.5 1.5l-1.5 -1.5zM190 528.6l1.5 1.5l-1.5 1.5l-1.5 -1.5zM210 537.7l1.5 1.5l-1.5 1.5l-1.5 -1.5zM230 526.7l1.5 1.5l-1.5 1.5l-1.5 -1.5zM250 517.9l1.5 1.5l-1.5 1.5l-1.5 -1.5zM270 508.7l1.5 1.5l-1.5 1.5l-1.5 -1.5zM290 505.0l1.5 1.5l-1.5 1.5l-1.5 -1.5zM310 492.7l1.5 1.5l-1.5 1.5l-1.5 -1.5zM330 480.5l1.5 1.5l-1.5 1.5l-1.5 -1.5zM350 453.5l1.5 1.5l-1.5 1.5l-1.5 -1.5zM370 435.5l1.5 1.5l-1.5 1.5l-1.5 -1.5zM390 433.3l1.5 1.5l-1.5 1.5l-1.5 -1.5zM410 426.5l1.5 1.5l-1.5 1.5l-1.5 -1.5zM430 440.5l1.5 1.5l-1.5 1.5l-1.5 -1.5zM450 468.5l1.5 1.5l-1.5 1.5l-1.5 -1.5zM470 483.5l1.5 1.5l-1.5 1.5l-1.5 -1.5zM490 462.1l1.5 1.5l-1.5 1.5l-1.5 -1.5zM510 441.4l1.5 1.5l-1.5 1.5l-1.5 -1.5zM530 478.5l1.5 1.5l-1.5 1.5l-1.5 -1.5zM550 498.5l1.5 1.5l-1.5 1.5l-1.5 -1.5zM570 503.5l1.5 1.5l-1.5 1.5l-1.5 -1.5zM590 508.5l1.5 1.5l-1.5 1.5l-1.5 -1.5zM610 518.5l1.5 1.5l-1.5 1.5l-1.5 -1.5zM630 503.5l1.5 1.5l-1.5 1.5l-1.5 -1.5zM650 493.5l1.5 1.5l-1.5 1.5l-1.5 -1.5zM670 454.9l1.5 1.5l-1.5 1.5l-1.5 -1.5zM690 482.8l1.5 1.5l-1.5 1.5l-1.5 -1.5z" fill="#005880"/><polyline points="50,537.0 70,525.6 90,527.1 110,518.9 130,522.8 150,525.5 170,532.9 190,533.2 210,540.4 230,533.2 250,523.5 270,513.1 290,514.9 310,505.0 330,486.0 350,458.0 370,450.0 390,455.0 410,465.0 430,475.0 450,490.0 470,500.0 490,510.0 510,520.0 530,495.0 550,505.0 570,488.8 590,464.3 610,485.7 630,500.0 650,510.0 670,505.0 690,500.0" fill="none" stroke="#507080" stroke-width="1"/><path d="M50 535.5l1.5 1.5l-1.5 1.5l-1.5 -1.5zM70 524.1l1.5 1.5l-1.5 1.5l-1.5 -1.5zM90 525.6l1.5 1.5l-1.5 1.5l-1.5 -1.5zM110 517.4l1.5 1.5l-1.5 1.5l-1.5 -1.5zM130 521.3l1.5 1.5l-1.5 1.5l-1.5 -1.5zM150 524.0l1.5 1.5l-1.5 1.5l-1.5 -1.5zM170 531.4l1.5 1.5l-1.5 1.5l-1.5 -1.5zM190 531.7l1.5 1.5l-1.5 1.5l-1.5 -1.5zM210 538.9l1.5 1.5l-1.5 1.5l-1.5 -1.5zM230 531.7l1.5 1.5l-1.5 1.5l-1.5 -1.5zM250 522.0l1.5 1.5l-1.5 1.5l-1.5 -1.5zM270 511.6l1.5 1.5l-1.5 1.5l-1.5 -1.5zM290 513.4l1.5 1.5l-1.5 1.5l-1.5 -1.5zM310 503.5l1.5 1.5l-1.5 1.5l-1.5 -1.5zM330 484.5l1.5 1.5l-1.5 1.5l-1.5 -1.5zM350 456.5l1.5 1.5l-1.5 1.5l-1.5 -1.5zM370 448.5l1.5 1.5l-1.5 1.5l-1.5 -1.5zM390 453.5l1.5 1.5l-1.5 1.5l-1.5 -1.5zM410 463.5l1.5 1.5l-1.5 1.5l-1.5 -1.5zM430 473.5l1.5 1.5l-1.5 1.5l-1.5 -1.5zM450 488.5l1.5 1.5l-1.5 1.5l-1.5 -1.5zM470 498.5l1.5 1.5l-1.5 1.5l-1.5 -1.5zM490 508.5l1.5 1.5l-1.5 1.5l-1.5 -1.5zM510 518.5l1.5 1.5l-1.5 1.5l-1.5 -1.5zM530 493.5l1.5 1.5l-1.5 1.5l-1.5 -1.5zM550 503.5l1.5 1.5l-1.5 1.5l-1.5 -1.5zM570 487.3l1.5 1.5l-1.5 1.5l-1.5 -1.5zM590 462.8l1.5 1.5l-1.5 1.5l-1.5 -1.5zM610 484.2l1.5 1.5l-1.5 1.5l-1.5 -1.5zM630 498.5l1.5 1.5l-1.5 1.5l-1.5 -1.5zM650 508.5l1.5 1.5l-1.5 1.5l-1.5 -1.5zM670 503.5l1.5 1.5l-1.5 1.5l-1.5 -1.5zM690 498.5l1.5 1.5l-1.5 1.5l-1.5 -1.5z" fill="#507080"/><polyline points="50,530.4 70,524.6 90,521.1 110,512.3 130,518.7 150,516.2 170,523.2 190,524.9 210,533.1 230,525.1 250,514.5 270,502.4 290,497.8 310,489.6 330,490.0 350,462.0 370,440.0 390,424.7 410,440.0 430,455.0 450,505.0 470,520.0 490,515.0 510,510.0 530,515.0 550,502.0 570,490.0 590,469.3 610,462.9 630,500.0 650,515.0 670,510.0 690,515.0" fill="none" stroke="#706070" stroke-width="1"/><path d="M50 528.9l1.5 1.5l-1.5 1.5l-1.5 -1.5zM70 523.1l1.5 1.5l-1.5 1.5l-1.5 -1.5zM90 519.6l1.5 1.5l-1.5 1.5l-1.5 -1.5zM110 510.8l1.5 1.5l-1.5 1.5l-1.5 -1.5zM130 517.2l1.5 1.5l-1.5 1.5l-1.5 -1.5zM150 514.7l1.5 1.5l-1.5 1.5l-1.5 -1.5zM170 521.7l1.5 1.5l-1.5 1.5l-1.5 -1.5zM190 523.4l1.5 1.5l-1.5 1.5l-1.5 -1.5zM210 531.6l1.5 1.5l-1.5 1.5l-1.5 -1.5zM230 523.6l1.5 1.5l-1.5 1.5l-1.5 -1.5zM250 513.0l1.5 1.5l-1.5 1.5l-1.5 -1.5zM270 500.9l1.5 1.5l-1.5 1.5l-1.5 -1.5zM290 496.3l1.5 1.5l-1.5 1.5l-1.5 -1.5zM310 488.1l1.5 1.5l-1.5 1.5l-1.5 -1.5zM330 488.5l1.5 1.5l-1.5 1.5l-1.5 -1.5zM350 460.5l1.5 1.5l-1.5 1.5l-1.5 -1.5zM370 438.5l1.5 1.5l-1.5 1.5l-1.5 -1.5zM390 423.2l1.5 1.5l-1.5 1.5l-1.5 -1.5zM410 438.5l1.5 1.5l-1.5 1.5l-1.5 -1.5zM430 453.5l1.5 1.5l-1.5 1.5l-1.5 -1.5zM450 503.5l1.5 1.5l-1.5 1.5l-1.5 -1.5zM470 518.5l1.5 1.5l-1.5 1.5l-1.5 -1.5zM490 513.5l1.5 1.5l-1.5 1.5l-1.5 -1.5zM510 508.5l1.5 1.5l-1.5 1.5l-1.5 -1.5zM530 513.5l1.5 1.5l-1.5 1.5l-1.5 -1.5zM550 500.5l1.5 1.5l-1.5 1.5l-1.5 -1.5zM570 488.5l1.5 1.5l-1.5 1.5l-1.5 -1.5zM590 467.8l1.5 1.5l-1.5 1.5l-1.5 -1.5zM610 461.4l1.5 1.5l-1.5 1.5l-1.5 -1.5zM630 498.5l1.5 1.5l-1.5 1.5l-1.5 -1.5zM650 513.5l1.5 1.5l-1.5 1.5l-1.5 -1.5zM670 508.5l1.5 1.5l-1.5 1.5l-1.5 -1.5zM690 513.5l1.5 1.5l-1.5 1.5l-1.5 -1.5z" fill="#706070"/><polyline points="50,534.1 70,524.9 90,523.9 110,516.2 130,520.7 150,522.7 170,527.8 190,529.6 210,537.9 230,527.3 250,520.3 270,508.0 290,504.7 310,498.0 330,498.0 350,470.4 370,474.3 390,459.3 410,440.0 430,432.0 450,417.4 470,432.9 490,442.9 510,470.0 530,500.0 550,480.0 570,470.0 590,495.0 610,500.0 630,505.0 650,500.0 670,510.0 690,505.0" fill="none" stroke="#c0c0c0" stroke-width="1"/><path d="M50 532.6l1.5 1.5l-1.5 1.5l-1.5 -1.5zM70 523.4l1.5 1.5l-1.5 1.5l-1.5 -1.5zM90 522.4l1.5 1.5l-1.5 1.5l-1.5 -1.5zM110 514.7l1.5 1.5l-1.5 1.5l-1.5 -1.5zM130 519.2l1.5 1.5l-1.5 1.5l-1.5 -1.5zM150 521.2l1.5 1.5l-1.5 1.5l-1.5 -1.5zM170 526.3l1.5 1.5l-1.5 1.5l-1.5 -1.5zM190 528.1l1.5 1.5l-1.5 1.5l-1.5 -1.5zM210 536.4l1.5 1.5l-1.5 1.5l-1.5 -1.5zM230 525.8l1.5 1.5l-1.5 1.5l-1.5 -1.5zM250 518.8l1.5 1.5l-1.5 1.5l-1.5 -1.5zM270 506.5l1.5 1.5l-1.5 1.5l-1.5 -1.5zM290 503.2l1.5 1.5l-1.5 1.5l-1.5 -1.5zM310 496.5l1.5 1.5l-1.5 1.5l-1.5 -1.5zM330 496.5l1.5 1.5l-1.5 1.5l-1.5 -1.5zM350 468.9l1.5 1.5l-1.5 1.5l-1.5 -1.5zM370 472.8l1.5 1.5l-1.5 1.5l-1.5 -1.5zM390 457.8l1.5 1.5l-1.5 1.5l-1.5 -1.5zM410 438.5l1.5 1.5l-1.5 1.5l-1.5 -1.5zM430 430.5l1.5 1.5l-1.5 1.5l-1.5 -1.5zM450 415.9l1.5 1.5l-1.5 1.5l-1.5 -1.5zM470 431.4l1.5 1.5l-1.5 1.5l-1.5 -1.5zM490 441.4l1.5 1.5l-1.5 1.5l-1.5 -1.5zM510 468.5l1.5 1.5l-1.5 1.5l-1.5 -1.5zM530 498.5l1.5 1.5l-1.5 1.5l-1.5 -1.5zM550 478.5l1.5 1.5l-1.5 1.5l-1.5 -1.5zM570 468.5l1.5 1.5l-1.5 1.5l-1.5 -1.5zM590 493.5l1.5 1.5l-1.5 1.5l-1.5 -1.5zM610 498.5l1.5 1.5l-1.5 1.5l-1.5 -1.5zM630 503.5l1.5 1.5l-1.5 1.5l-1.5 -1.5zM650 498.5l1.5 1.5l-1.5 1.5l-1.5 -1.5zM670 508.5l1.5 1.5l-1.5 1.5l-1.5 -1.5zM690 503.5l1.5 1.5l-1.5 1.5l-1.5 -1.5z" fill="#c0c0c0"/><polyline points="50,525.2 70,520.9 90,520.4 110,507.9 130,513.5 150,514.3 170,521.2 190,523.7 210,529.4 230,521.2 250,510.0 270,496.1 290,494.1 310,480.4 330,494.0 350,466.0 370,460.0 390,465.0 410,485.0 430,500.0 450,527.0 470,515.0 490,520.0 510,515.0 530,526.0 550,510.0 570,500.0 590,467.0 610,480.0 630,505.0 650,520.0 670,512.0 690,508.0" fill="none" stroke="#808080" stroke-width="1"/><path d="M50 523.7l1.5 1.5l-1.5 1.5l-1.5 -1.5zM70 519.4l1.5 1.5l-1.5 1.5l-1.5 -1.5zM90 518.9l1.5 1.5l-1.5 1.5l-1.5 -1.5zM110 506.4l1.5 1.5l-1.5 1.5l-1.5 -1.5zM130 512.0l1.5 1.5l-1.5 1.5l-1.5 -1.5zM150 512.8l1.5 1.5l-1.5 1.5l-1.5 -1.5zM170 519.7l1.5 1.5l-1.5 1.5l-1.5 -1.5zM190 522.2l1.5 1.5l-1.5 1.5l-1.5 -1.5zM210 527.9l1.5 1.5l-1.5 1.5l-1.5 -1.5zM230 519.7l1.5 1.5l-1.5 1.5l-1.5 -1.5zM250 508.5l1.5 1.5l-1.5 1.5l-1.5 -1.5zM270 494.6l1.5 1.5l-1.5 1.5l-1.5 -1.5zM290 492.6l1.5 1.5l-1.5 1.5l-1.5 -1.5zM310 478.9l1.5 1.5l-1.5 1.5l-1.5 -1.5zM330 492.5l1.5 1.5l-1.5 1.5l-1.5 -1.5zM350 464.5l1.5 1.5l-1.5 1.5l-1.5 -1.5zM370 458.5l1.5 1.5l-1.5 1.5l-1.5 -1.5zM390 463.5l1.5 1.5l-1.5 1.5l-1.5 -1.5zM410 483.5l1.5 1.5l-1.5 1.5l-1.5 -1.5zM430 498.5l1.5 1.5l-1.5 1.5l-1.5 -1.5zM450 525.5l1.5 1.5l-1.5 1.5l-1.5 -1.5zM470 513.5l1.5 1.5l-1.5 1.5l-1.5 -1.5zM490 518.5l1.5 1.5l-1.5 1.5l-1.5 -1.5zM510 513.5l1.5 1.5l-1.5 1.5l-1.5 -1.5zM530 524.5l1.5 1.5l-1.5 1.5l-1.5 -1.5zM550 508.5l1.5 1.5l-1.5 1.5l-1.5 -1.5zM570 498.5l1.5 1.5l-1.5 1.5l-1.5 -1.5zM590 465.5l1.5 1.5l-1.5 1.5l-1.5 -1.5zM610 478.5l1.5 1.5l-1.5 1.5l-1.5 -1.5zM630 503.5l1.5 1.5l-1.5 1.5l-1.5 -1.5zM650 518.5l1.5 1.5l-1.5 1.5l-1.5 -1.5zM670 510.5l1.5 1.5l-1.5 1.5l-1.5 -1.5zM690 506.5l1.5 1.5l-1.5 1.5l-1.5 -1.5z" fill="#808080"/><path d="M50 533.50L70 525.50M70 525.50L90 523.80M90 523.80L110 514.00M110 514.00L130 520.50M130 520.50L150 520.50M150 520.50L170 527.50M170 527.50L190 529.00M190 529.00L210 537.00M210 537.00L230 528.50M230 528.50L250 519.50M250 519.50L270 507.50M270 507.50L290 504.50M290 504.50L310 494.00M310 494.00L330 483.00M330 483.00L350 446.60M350 446.60L370 449.70M370 449.70L390 453.00M390 453.00L410 465.60M410 465.60L430 496.00M430 496.00L450 504.20M450 504.20L470 512.00M470 512.00L490 498.50M490 498.50L510 444.00M510 444.00L530 482.00M530 482.00L550 509.00M550 509.00L570 520.30M570 520.30L590 513.00M590 513.00L610 510.00M610 510.00L630 484.50M630 484.50L650 482.50M650 482.50L670 496.50M670 496.50L690 514.50" fill="none" stroke="#0000e0" stroke-width="2.2" stroke-linecap="butt"/><path d="M50 535.00L70 526.50M70 526.50L90 524.50M90 524.50L110 524.50M110 524.50L130 525.00M130 525.00L150 523.20M150 523.20L170 530.50M170 530.50L190 533.80M190 533.80L210 540.20M210 540.20L230 535.80M230 535.80L250 522.40M250 522.40L270 517.50M270 517.50L290 512.00M290 512.00L310 503.80M310 503.80L330 498.60M330 498.60L350 475.30M350 475.30L370 495.70M370 495.70L390 496.50M390 496.50L410 505.70M410 505.70L430 500.00M430 500.00L450 522.40M450 522.40L470 512.00M470 512.00L490 504.40M490 504.40L510 464.50M510 464.50L530 495.00M530 495.00L550 527.30M550 527.30L570 527.40M570 527.40L590 508.40M590 508.40L610 506.00M610 506.00L630 501.00M630 501.00L650 501.00M650 501.00L670 510.50M670 510.50L690 540.00" fill="none" stroke="#000" stroke-width="2.2" stroke-linecap="butt"/><path d="M50 532.50L70 524.00M70 524.00L90 522.50M90 522.50L110 512.70M110 512.70L130 519.20M130 519.20L150 519.20M150 519.20L170 526.00M170 526.00L190 527.60M190 527.60L210 536.00M210 536.00L230 527.00M230 527.00L250 518.00M250 518.00L270 506.00M270 506.00L290 503.00M290 503.00L310 492.40M310 492.40L330 481.00M330 481.00L350 444.30M350 444.30L370 442.20M370 442.20L390 448.20M390 448.20L410 464.00M410 464.00L430 461.00M430 461.00L450 482.80M450 482.80L470 489.20M470 489.20L490 491.80M490 491.80L510 485.00M510 485.00L530 497.50M530 497.50L550 511.00M550 511.00L570 515.80M570 515.80L590 503.60M590 503.60L610 505.50M610 505.50L630 501.50M630 501.50L650 500.00M650 500.00L670 493.50M670 493.50L690 505.50" fill="none" stroke="#f00" stroke-width="3.2" stroke-linecap="butt"/><rect x="35" y="630" width="31" height="4" fill="#f00"/><text class="m" x="75" y="641">Moyenne des scénarios</text><rect x="225" y="635" width="31" height="4" fill="#0000c8"/><rect x="225" y="645" width="31" height="4" fill="#000"/><text class="m" x="265" y="641">Run de contrôle</text><text class="m" x="265" y="651">Run GFS</text><text class="m" x="369" y="656">20 Perturbations</text><rect x="470" y="650" width="10" height="6" fill="#008080"/><text class="t" x="470" y="647">01</text><rect x="481" y="650" width="10" height="6" fill="#bbbb00"/><text class="t" x="481" y="647">02</text><rect x="492" y="650" width="10" height="6" fill="#008000"/><text class="t" x="492" y="647">03</text><rect x="503" y="650" width="10" height="6" fill="#ff8000"/><text class="t" x="503" y="647">04</text><rect x="514" y="650" width="10" height="6" fill="#00ff00"/><text class="t" x="514" y="647">05</text><rect x="525" y="650" width="10" height="6" fill="#800080"/><text class="t" x="525" y="647">06</text><rect x="536" y="650" width="10" height="6" fill="#00ff80"/><text class="t" x="536" y="647">07</text><rect x="547" y="650" width="10" height="6" fill="#ff00ff"/><text class="t" x="547" y="647">08</text><rect x="558" y="650" width="10" height="6" fill="#80ff00"/><text class="t" x="558" y="647">09</text><rect x="569" y="650" width="10" height="6" fill="#0080ff"/><text class="t" x="569" y="647">10</text><rect x="580" y="650" width="10" height="6" fill="#8080ff"/><text class="t" x="580" y="647">11</text><rect x="591" y="650" width="10" height="6" fill="#80ff80"/><text class="t" x="591" y="647">12</text><rect x="602" y="650" width="10" height="6" fill="#8080ff"/><text class="t" x="602" y="647">13</text><rect x="613" y="650" width="10" height="6" fill="#e0b040"/><text class="t" x="613" y="647">14</text><rect x="624" y="650" width="10" height="6" fill="#70a800"/><text class="t" x="624" y="647">15</text><rect x="635" y="650" width="10" height="6" fill="#005880"/><text class="t" x="635" y="647">16</text><rect x="646" y="650" width="10" height="6" fill="#507080"/><text class="t" x="646" y="647">17</text><rect x="657" y="650" width="10" height="6" fill="#706070"/><text class="t" x="657" y="647">18</text><rect x="668" y="650" width="10" height="6" fill="#c0c0c0"/><text class="t" x="668" y="647">19</text><rect x="679" y="650" width="10" height="6" fill="#808080"/><text class="t" x="679" y="647">20</text><rect x="20.5" y="667.5" width="420" height="32" fill="none" stroke="#000" stroke-width="1"/><text class="b" x="30" y="681">Diagramme des ensembles GEFS sur 180h : 43.1N 12.4E</text><text class="m" x="30" y="696">Vitesse (km/h) et direction (°) du vent moyen 10m</text><text class="m" x="450" y="676">Ensemble GEFS du 21/12/2013 - 18h</text><text class="b" x="450" y="696">Copyright 2013 Meteociel.fr</text></svg></body></html>
